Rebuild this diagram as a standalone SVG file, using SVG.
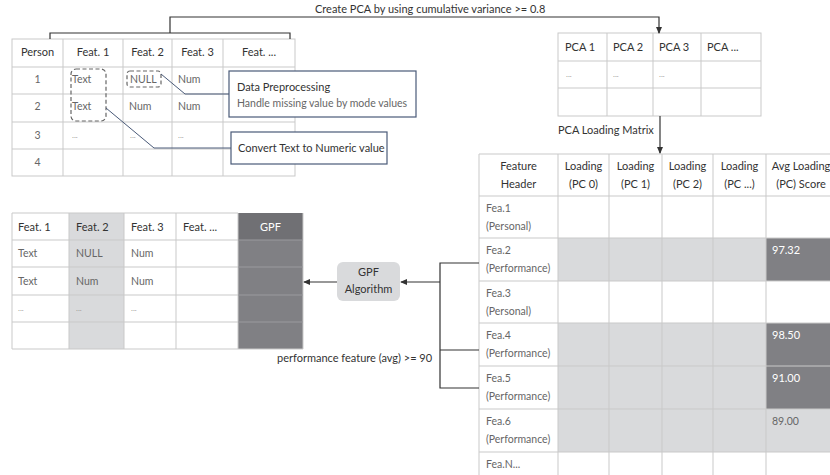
<svg xmlns="http://www.w3.org/2000/svg" width="830" height="475" viewBox="0 0 830 475">
<defs>
<marker id="arr" viewBox="0 0 8 8" refX="7" refY="4" markerWidth="7" markerHeight="7" orient="auto" markerUnits="userSpaceOnUse">
<path d="M0,0.5 L8,4 L0,7.5 z" fill="#333"/>
</marker>
<style>
text{font-family:Lato,"Open Sans","Liberation Sans",sans-serif;font-size:11px;fill:#333}
.c{text-anchor:middle}
.g{fill:#666;font-size:10.5px}
.w{fill:#fff}
.s{font-size:8px;fill:#999}
.grid{fill:none;stroke:#c9c9c9;stroke-width:1}
.lg{fill:#d9dadc}
.dg{fill:#808084}
.conn{fill:none;stroke:#333;stroke-width:1.2}
.lead{fill:none;stroke:#4a5a78;stroke-width:1}
.callout{fill:#fff;stroke:#4a5a78;stroke-width:1.2}
.dash{fill:none;stroke:#666;stroke-width:1.2;stroke-dasharray:4 2.5}
</style>
</defs>
<rect width="830" height="475" fill="#fff"/>

<g id="person-table">
<rect class="grid" x="12" y="39" width="283" height="137"/>
<path class="grid" d="M63,39V176M123,39V176M172,39V176M223,39V176M12,67H295M12,94H295M12,122H295M12,149H295"/>
<text class="c" x="37.5" y="56">Person</text>
<text class="c" x="93" y="56">Feat. 1</text>
<text class="c" x="147.5" y="56">Feat. 2</text>
<text class="c" x="197.5" y="56">Feat. 3</text>
<text class="c" x="259" y="56">Feat. ...</text>
<text class="c g" x="37.5" y="83">1</text>
<text class="g" x="72" y="83">Text</text>
<text class="g" x="130" y="83">NULL</text>
<text class="g" x="178" y="83">Num</text>
<text class="c g" x="37.5" y="110">2</text>
<text class="g" x="72" y="110">Text</text>
<text class="g" x="129" y="110">Num</text>
<text class="g" x="178" y="110">Num</text>
<text class="c g" x="37.5" y="139">3</text>
<text class="s" x="72" y="138">...</text>
<text class="s" x="130" y="138">...</text>
<text class="s" x="178" y="138">...</text>
<text class="c g" x="37.5" y="166">4</text>
<rect class="dash" x="71" y="69" width="35" height="52" rx="5"/>
<rect class="dash" x="127" y="71" width="34" height="16" rx="3"/>
</g>

<g id="callout-preprocessing">
<rect class="callout" x="229" y="71" width="187" height="46"/>
<text x="237" y="91">Data Preprocessing</text>
<text class="g" x="237" y="107">Handle missing value by mode values</text>
</g>

<g id="callout-convert">
<rect class="callout" x="231" y="132" width="156" height="32"/>
<text x="238" y="152">Convert Text to Numeric value</text>
</g>

<g id="pca-table">
<rect class="grid" x="558" y="33" width="203" height="83"/>
<path class="grid" d="M607,33V116M653,33V116M701,33V116M558,61H761M558,88H761"/>
<text x="565" y="51">PCA 1</text>
<text x="613" y="51">PCA 2</text>
<text x="659" y="51">PCA 3</text>
<text x="707" y="51">PCA ...</text>
<text class="s" x="566" y="77">...</text>
<text class="s" x="613" y="77">...</text>
<text class="s" x="659" y="77">...</text>
</g>

<g id="loading-matrix">
<rect class="lg" x="558" y="238" width="208" height="43"/>
<rect class="lg" x="558" y="323" width="208" height="129"/>
<rect class="lg" x="766" y="409" width="74" height="43"/>
<rect class="dg" x="766" y="238" width="74" height="43"/>
<rect class="dg" x="766" y="323" width="74" height="86"/>
<path class="grid" d="M479,154H840M479,196H840M479,238H840M479,281H840M479,323H840M479,366H840M479,409H840M479,452H840M479,154V480M558,154V480M609,154V480M662,154V480M713,154V480M766,154V480"/>
<text class="c" x="518.5" y="170">Feature</text>
<text class="c" x="518.5" y="188">Header</text>
<text class="c" x="583.5" y="170">Loading</text>
<text class="c" x="583.5" y="188">(PC 0)</text>
<text class="c" x="635.5" y="170">Loading</text>
<text class="c" x="635.5" y="188">(PC 1)</text>
<text class="c" x="687.5" y="170">Loading</text>
<text class="c" x="687.5" y="188">(PC 2)</text>
<text class="c" x="739.5" y="170">Loading</text>
<text class="c" x="739.5" y="188">(PC ...)</text>
<text class="c" x="801" y="170">Avg Loading</text>
<text class="c" x="801" y="188">(PC) Score</text>
<text class="g" x="486" y="212">Fea.1</text>
<text class="g" x="486" y="230">(Personal)</text>
<text class="g" x="486" y="254">Fea.2</text>
<text class="g" x="486" y="272">(Performance)</text>
<text class="g" x="486" y="297">Fea.3</text>
<text class="g" x="486" y="315">(Personal)</text>
<text class="g" x="486" y="339">Fea.4</text>
<text class="g" x="486" y="357">(Performance)</text>
<text class="g" x="486" y="382">Fea.5</text>
<text class="g" x="486" y="400">(Performance)</text>
<text class="g" x="486" y="425">Fea.6</text>
<text class="g" x="486" y="443">(Performance)</text>
<text class="g" x="486" y="468">Fea.N...</text>
<text class="w" x="772" y="254">97.32</text>
<text class="w" x="772" y="339">98.50</text>
<text class="w" x="772" y="382">91.00</text>
<text class="g" x="772" y="425">89.00</text>
</g>

<g id="gpf-table">
<rect class="lg" x="69" y="213" width="55" height="136"/>
<rect class="dg" x="238" y="240" width="65" height="109"/>
<rect fill="#707074" x="238" y="213" width="65" height="27"/>
<path class="grid" d="M12,213H238M12,240H238M12,267H238M12,295H238M12,322H238M12,349H303M12,213V349M69,213V349M124,213V349M176,213V349M238,213V349M303,213V349"/>
<path fill="none" stroke="#9a9a9e" stroke-width="1" d="M238,240H303M238,267H303M238,295H303M238,322H303"/>
<text x="18" y="231">Feat. 1</text>
<text x="76" y="231">Feat. 2</text>
<text x="131" y="231">Feat. 3</text>
<text x="183" y="231">Feat. ...</text>
<text class="c w" x="270.5" y="231">GPF</text>
<text class="g" x="18" y="257">Text</text>
<text class="g" x="76" y="257">NULL</text>
<text class="g" x="131" y="257">Num</text>
<text class="g" x="18" y="285">Text</text>
<text class="g" x="76" y="285">Num</text>
<text class="g" x="131" y="285">Num</text>
<text class="s" x="18" y="311">...</text>
<text class="s" x="76" y="311">...</text>
<text class="s" x="131" y="311">...</text>
</g>

<g id="gpf-algorithm">
<rect class="lg" x="337" y="262" width="63" height="39" rx="6"/>
<text class="c" x="368.5" y="276">GPF</text>
<text class="c" x="368.5" y="293">Algorithm</text>
</g>

<g id="connectors">
<path class="conn" d="M50,39V33H290V39"/>
<path class="conn" d="M170,33V17H659V33" marker-end="url(#arr)"/>
<path class="conn" d="M660,116V153" marker-end="url(#arr)"/>
<path class="lead" d="M161,74L185,94H229"/>
<path class="lead" d="M106,108L154,148H231"/>
<path class="conn" d="M479,263H440V388H479M440,350H479"/>
<path class="conn" d="M440,282H401" marker-end="url(#arr)"/>
<path class="conn" d="M337,282H304" marker-end="url(#arr)"/>
</g>

<g id="labels">
<text x="315" y="13">Create PCA by using cumulative variance &gt;= 0.8</text>
<text x="558" y="134">PCA Loading Matrix</text>
<text x="277" y="362">performance feature (avg) &gt;= 90</text>
</g>
</svg>
